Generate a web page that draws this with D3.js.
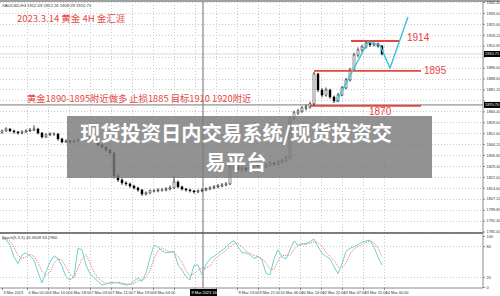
<!DOCTYPE html>
<html>
<head>
<meta charset="utf-8">
<script src="https://cdn.jsdelivr.net/npm/d3@7"></script>
<style>
  body { margin: 0; background: #fff; }
  svg { display: block; font-family: "Liberation Sans", Arial, sans-serif; }
</style>
</head>
<body>
<div id="chart"></div>
<script>
var svgWidth = 500;
var svgHeight = 296;

// candle data, 4H bars (open = previous close)
var firstOpen = 1852.0;
var closes = [1853.1,1854.4,1853.1,1852.4,1851.7,1852.4,1853.1,1853.7,1854.4,1851.7,
  1849.0,1850.4,1851.0,1851.0,1847.7,1845.6,1846.3,1845.6,1846.3,1847.0,
  1847.7,1847.0,1847.7,1846.3,1843.6,1842.2,1840.2,1838.2,1822.6,1819.9,
  1817.9,1817.2,1815.8,1814.5,1813.1,1810.4,1811.1,1812.5,1812.5,1813.1,
  1813.1,1813.8,1814.5,1818.5,1815.2,1813.8,1813.1,1812.5,1811.8,1812.5,
  1813.1,1813.8,1814.5,1815.2,1815.8,1816.5,1817.2,1828.0,1829.4,1826.7,
  1828.0,1826.7,1828.7,1830.1,1829.4,1828.7,1830.1,1831.4,1830.7,1832.1,
  1832.8,1834.8,1861.9,1865.3,1866.6,1868.6,1869.3,1871.4,1891.7,1880.8,
  1877.4,1880.8,1876.1,1873.4,1877.4,1882.2,1887.6,1894.4,1904.5,1907.9,
  1909.9,1912.6,1911.3,1912.0,1910.6,1905.2];
var highs = [1854.0,1855.6,1855.0,1854.0,1853.2,1853.5,1854.2,1855.0,1856.8,1855.2,
  1852.3,1851.5,1852.2,1852.1,1851.6,1848.4,1847.4,1847.1,1847.2,1848.1,
  1848.9,1848.6,1849.3,1848.5,1846.9,1844.5,1843.0,1841.0,1839.0,1824.0,
  1821.0,1819.0,1818.1,1816.7,1815.3,1813.8,1812.2,1813.4,1813.6,1814.2,
  1814.4,1815.0,1816.1,1822.6,1819.6,1816.0,1814.6,1814.0,1813.2,1813.5,
  1814.1,1814.9,1815.6,1816.4,1817.2,1817.8,1818.4,1830.2,1831.0,1830.2,
  1829.3,1828.9,1829.8,1831.3,1831.0,1830.3,1831.4,1832.6,1832.3,1833.2,
  1834.0,1836.2,1863.0,1866.8,1868.0,1869.9,1870.9,1872.8,1893.0,1892.4,
  1882.1,1882.5,1881.6,1877.0,1878.8,1883.5,1889.0,1895.8,1906.0,1909.6,
  1911.4,1914.0,1913.5,1913.2,1912.9,1911.4];
var lows = [1851.2,1852.5,1852.3,1851.3,1850.6,1850.9,1851.8,1852.4,1853.0,1850.8,
  1848.0,1848.3,1849.6,1849.8,1846.5,1844.7,1844.9,1844.5,1844.8,1845.5,
  1846.2,1846.1,1846.0,1845.2,1842.7,1841.0,1839.1,1836.9,1820.8,1818.6,
  1816.6,1815.9,1814.6,1813.4,1811.9,1809.1,1809.5,1810.3,1811.4,1811.6,
  1812.0,1812.2,1812.9,1813.7,1814.2,1812.7,1812.0,1811.4,1810.6,1810.9,
  1811.6,1812.3,1813.0,1813.6,1814.3,1815.0,1815.6,1816.4,1826.9,1825.6,
  1825.5,1825.4,1825.9,1827.8,1828.3,1827.6,1827.9,1829.2,1829.6,1829.8,
  1831.0,1831.9,1833.9,1860.4,1863.9,1865.3,1867.0,1868.1,1870.5,1879.4,
  1875.9,1876.3,1874.8,1872.0,1872.6,1876.5,1881.3,1886.6,1893.5,1903.2,
  1906.6,1908.8,1910.0,1910.4,1909.5,1904.3];

// stochastic (5,3,3)
var stochK = [95,93,82,59,46,63,67,61,53,29,8,30,49,61,56,41,20,14,20,76,
  73,43,26,18,11,4,6,9,9,8,6,4,5,12,18,11,28,57,82,78,
  71,67,68,70,43,33,20,14,43,43,24,44,55,60,66,72,78,86,91,79,
  67,67,63,56,60,53,27,24,55,73,59,55,73,90,82,84,85,89,94,79,
  66,60,55,40,26,45,70,76,79,83,88,90,92,78,59,43];
var stochD = [96,94,90,78,62,56,59,64,60,48,30,22,29,47,55,53,39,25,18,37,
  56,64,47,29,18,11,7,6,8,9,8,6,5,7,12,14,19,32,56,72,
  77,72,69,68,60,49,32,22,26,33,37,37,41,53,60,66,72,79,85,85,
  79,71,66,62,60,56,47,35,35,51,62,62,62,73,82,85,84,86,89,87,
  80,68,60,52,40,37,47,64,75,79,83,87,90,87,76,60];

var priceTicks = [1940.40,1933.00,1925.60,1918.20,1910.80,1903.40,1896.00,1888.60,1881.20,1873.80,
  1866.40,1859.00,1851.60,1844.20,1836.80,1829.40,1822.00,1814.60,1807.20,1799.80,1792.40,1785.00];
var stochTicks = [100, 80, 20, 0];
var timeLabels = ["3 Mar 2023","6 Mar 02:00","6 Mar 10:00","6 Mar 18:00","7 Mar 03:00","7 Mar 11:00",
  "7 Mar 19:00","8 Mar 04:00","8 Mar 12:00","8 Mar 20:00","9 Mar 05:00","9 Mar 13:00","9 Mar 21:00",
  "10 Mar 06:00","10 Mar 14:00","12 Mar 22:00","13 Mar 07:00","13 Mar 15:00","14 Mar 00:00"];

// hand drawn annotations: [bar, price]
var levelPrices = [1914.0, 1893.7, 1870.0];
var levelNames = ["1914", "1895", "1870"];
var levelStart = [87.25, 78, 77];
var levelEnd = [99.5, 104.75, 104.75];
var zigzag = [[83.5, 1872.7], [91.5, 1913.3], [94.5, 1911.0], [97, 1895.7], [101.5, 1930.2]];
var crossBar = 50.25, crossPrice = 1870.7;
var lastPrice = "1910.71", crossTime = "9 Mar 2023 16:00";

var title1 = "2023.3.14 黄金 4H 金汇涯";
var title2 = "黄金1890-1895附近做多 止损1885 目标1910 1920附近";
var bannerLines = ["现货投资日内交易系统/现货投资交", "易平台"];

var plotRight = 483, mainTop = 2, mainBottom = 232, stochTop = 233, stochBottom = 288;

var svg = d3.select("#chart")
  .append("svg")
  .attr("width", svgWidth)
  .attr("height", svgHeight);

var x = d3.scaleLinear().domain([0, 95]).range([2, 382]);
var y = d3.scaleLinear().domain([1785.0, 1940.4]).range([231.5, 2]);
var yS = d3.scaleLinear().domain([0, 100]).range([287, 236]);

var labelBars = timeLabels.map((d, i) => i == 0 ? 0 : 6.25 + 5.25 * (i - 1));
var lastY = y(closes[closes.length - 1]);

// grid
var grid = svg.append("g").attr("stroke", "#c9c9c9").attr("stroke-dasharray", "1,2")
  .attr("shape-rendering", "crispEdges");
grid.selectAll(".hg").data(priceTicks).enter().append("line")
  .attr("x1", 0).attr("x2", plotRight)
  .attr("y1", d => Math.round(y(d)) + 0.5).attr("y2", d => Math.round(y(d)) + 0.5);
grid.selectAll(".sg").data([80, 20]).enter().append("line")
  .attr("x1", 0).attr("x2", plotRight)
  .attr("y1", d => Math.round(yS(d)) + 0.5).attr("y2", d => Math.round(yS(d)) + 0.5);
grid.selectAll(".vg").data(labelBars.slice(1)).enter().append("line")
  .attr("x1", d => Math.round(x(d)) + 0.5).attr("x2", d => Math.round(x(d)) + 0.5)
  .attr("y1", mainTop).attr("y2", stochBottom);

// top border
svg.append("rect").attr("x", 0).attr("y", 0).attr("width", svgWidth).attr("height", 2).attr("fill", "#a0a0a0");

// bid line
svg.append("line").attr("x1", 0).attr("x2", plotRight)
  .attr("y1", lastY).attr("y2", lastY)
  .attr("stroke", "#d0d0d0").attr("stroke-width", 0.8);

// crosshair
svg.append("line").attr("x1", x(crossBar)).attr("x2", x(crossBar))
  .attr("y1", mainTop).attr("y2", stochBottom).attr("stroke", "#6e6e6e").attr("stroke-width", 1);
svg.append("line").attr("x1", 0).attr("x2", plotRight)
  .attr("y1", y(crossPrice)).attr("y2", y(crossPrice)).attr("stroke", "#7a7a7a").attr("stroke-width", 1);

// candles
var opens = closes.map((c, i) => i == 0 ? firstOpen : closes[i - 1]);
var candles = svg.append("g");
candles.selectAll(".wick").data(closes).enter().append("line")
  .attr("x1", (d, i) => x(i)).attr("x2", (d, i) => x(i))
  .attr("y1", (d, i) => y(highs[i])).attr("y2", (d, i) => y(lows[i]))
  .attr("stroke", "#000").attr("stroke-width", 0.8);
candles.selectAll(".body").data(closes).enter().append("rect")
  .attr("x", (d, i) => x(i) - 1)
  .attr("width", 2)
  .attr("y", (d, i) => y(Math.max(d, opens[i])))
  .attr("height", (d, i) => Math.max(0.6, Math.abs(y(d) - y(opens[i]))))
  .attr("fill", (d, i) => d >= opens[i] ? "#fff" : "#000")
  .attr("stroke", "#000").attr("stroke-width", 0.45);

// red levels
var red = "#e5463f";
svg.selectAll(".lvl").data(levelPrices).enter().append("line")
  .attr("x1", (d, i) => x(levelStart[i])).attr("x2", (d, i) => x(levelEnd[i]))
  .attr("y1", d => y(d)).attr("y2", d => y(d))
  .attr("stroke", red).attr("stroke-width", 1.8);
svg.append("text").attr("x", x(101.25)).attr("y", y(levelPrices[0]) + 0.5)
  .attr("fill", red).attr("font-size", 10).text(levelNames[0]);
svg.append("text").attr("x", x(105.5)).attr("y", y(levelPrices[1]) + 3.5)
  .attr("fill", red).attr("font-size", 10).text(levelNames[1]);
svg.append("text").attr("x", x(91.75)).attr("y", y(levelPrices[2]) + 9.5)
  .attr("fill", red).attr("font-size", 10).text(levelNames[2]);

// zigzag
svg.append("path")
  .attr("d", d3.line().x(d => x(d[0])).y(d => y(d[1]))(zigzag))
  .attr("fill", "none").attr("stroke", "#35c6d6").attr("stroke-width", 1.4);

// titles
svg.append("text").attr("x", 17).attr("y", 21.5).attr("fill", red)
  .attr("font-family", "Noto Sans CJK SC").attr("font-size", 9.5).text(title1);
svg.append("text").attr("x", 27).attr("y", 101.5).attr("fill", red)
  .attr("font-family", "Noto Sans CJK SC").attr("font-size", 9.3).text(title2);

// stochastic panel
svg.append("line").attr("x1", 0).attr("x2", plotRight).attr("y1", stochTop).attr("y2", stochTop)
  .attr("stroke", "#555").attr("stroke-width", 1.5);
svg.append("path")
  .attr("d", d3.line().x((d, i) => x(i)).y(d => yS(d))(stochD))
  .attr("fill", "none").attr("stroke", "#e36a6a").attr("stroke-width", 0.9)
  .attr("stroke-dasharray", "1.2,1.2");
svg.append("path")
  .attr("d", d3.line().x((d, i) => x(i)).y(d => yS(d))(stochK))
  .attr("fill", "none").attr("stroke", "#72d0d0").attr("stroke-width", 1);

// axes (labels hidden under the black boxes are dropped, as in the terminal)
var boxYs = [lastY, y(crossPrice)];
var boxX0 = x(crossBar) - 13, boxX1 = x(crossBar) + 14;
var rightAxis = d3.axisRight(y).tickValues(priceTicks).tickSize(2).tickPadding(1.5)
  .tickFormat(d => boxYs.some(b => Math.abs(y(d) - b) < 5) ? "" : d3.format(".2f")(d));
var gR = svg.append("g").attr("transform", `translate(${plotRight}, 0)`).call(rightAxis);
var stochAxis = d3.axisRight(yS).tickValues(stochTicks).tickSize(2).tickPadding(1.5);
var gS = svg.append("g").attr("transform", `translate(${plotRight}, 0)`).call(stochAxis);
var bottomAxis = d3.axisBottom(x).tickValues(labelBars).tickSize(2)
  .tickFormat((d, i) => (x(d) + 18 > boxX0 && x(d) < boxX1) ? "" : timeLabels[i]);
var gB = svg.append("g").attr("transform", `translate(0, ${stochBottom})`).call(bottomAxis);
gS.select(".domain").remove();
[gR, gS, gB].forEach(function(g) {
  g.selectAll(".domain").attr("stroke", "#8a8a8a");
  g.selectAll(".tick line").attr("stroke", "#8a8a8a");
  g.selectAll("text").attr("font-size", 3.9).attr("fill", "#333").attr("font-family", "Liberation Sans");
});
gR.select(".domain").attr("d", `M0,${mainTop}V${stochBottom}`);
gB.select(".domain").attr("d", `M0,0H${plotRight}`);
gB.selectAll("text").attr("text-anchor", "start").attr("dx", 1).attr("dy", "0.2em");

// price boxes
function priceBox(yy, label) {
  svg.append("rect").attr("x", plotRight + 1).attr("y", yy - 3).attr("width", 16).attr("height", 6).attr("fill", "#000");
  svg.append("text").attr("x", plotRight + 2).attr("y", yy + 1.5).attr("fill", "#fff")
    .attr("font-size", 3.9).text(label);
}
priceBox(lastY, lastPrice);
priceBox(y(crossPrice), d3.format(".2f")(crossPrice));
svg.append("rect").attr("x", boxX0).attr("y", 289).attr("width", boxX1 - boxX0).attr("height", 7).attr("fill", "#000");
svg.append("text").attr("x", boxX0 + 1.5).attr("y", 294).attr("fill", "#fff")
  .attr("font-size", 3.9).text(crossTime);

// header texts
svg.append("text").attr("x", 2).attr("y", 7).attr("font-size", 4.2).attr("fill", "#333")
  .text("XAUUSD,H4  1912.09 1912.26 1909.29 1910.71");
svg.append("text").attr("x", 2).attr("y", 239).attr("font-size", 4.2).attr("fill", "#333")
  .text("Stoch(5,3,3) 44.4509 53.2960");

// banner
svg.append("rect").attr("x", 67).attr("y", 116).attr("width", 365).attr("height", 62)
  .attr("fill", "#7a7a7a").attr("opacity", 0.82);
svg.selectAll(".banner").data(bannerLines).enter().append("text")
  .attr("x", 236).attr("y", (d, i) => 140.5 + i * 29)
  .attr("text-anchor", "middle")
  .attr("font-family", "Noto Sans CJK SC").attr("font-weight", "bold").attr("font-size", 20.3)
  .attr("fill", "#fff")
  .text(d => d);
</script>
</body>
</html>
